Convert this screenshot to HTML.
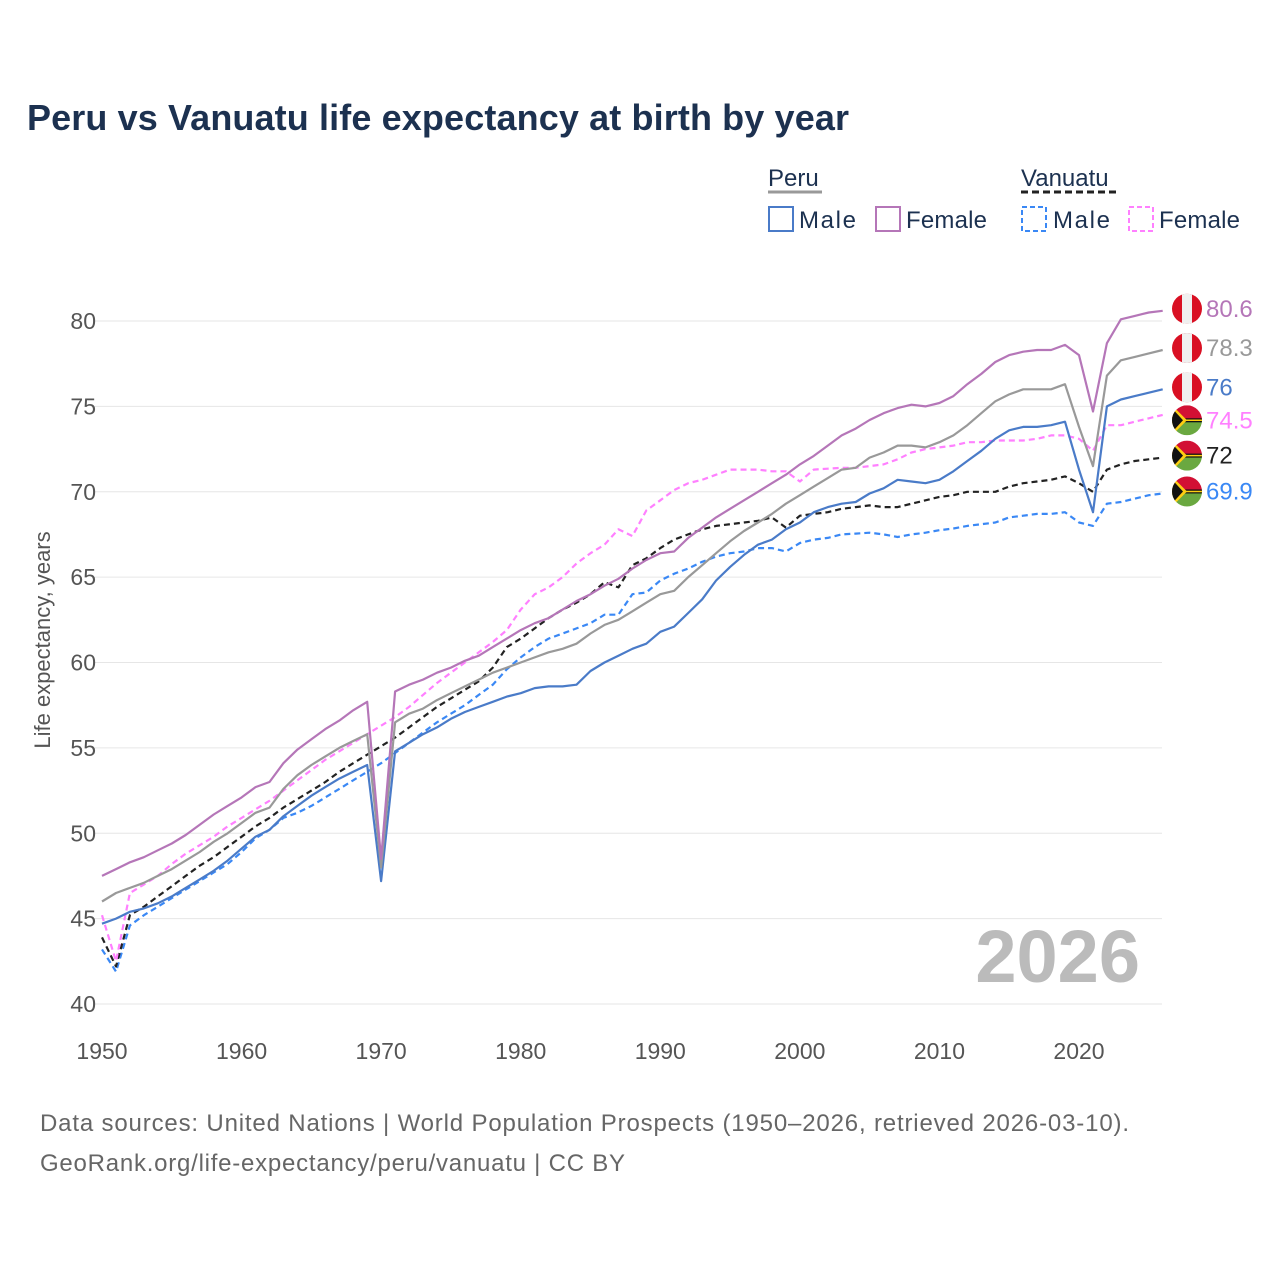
<!DOCTYPE html>
<html><head><meta charset="utf-8">
<style>
body{margin:0;background:#fff;font-family:"Liberation Sans",sans-serif;}
#wrap{position:relative;width:1280px;height:1280px;overflow:hidden;}
</style></head>
<body>
<div id="wrap">
<svg id="chart" width="1280" height="1280" xmlns="http://www.w3.org/2000/svg">
<text x="27" y="130" font-size="36" font-weight="bold" fill="#1c3150" textLength="822">Peru vs Vanuatu life expectancy at birth by year</text>
<g>
<text x="768" y="186" font-size="24" fill="#1c3150">Peru</text>
<line x1="768" y1="192" x2="822" y2="192" stroke="#999" stroke-width="3"/>
<text x="1021" y="186" font-size="24" fill="#1c3150">Vanuatu</text>
<line x1="1021" y1="192" x2="1116" y2="192" stroke="#222" stroke-width="3" stroke-dasharray="7,4"/>
<g><rect x="769" y="207" width="24" height="24" fill="none" stroke="#4a7bc8" stroke-width="2"/><text x="799" y="228" font-size="24" fill="#1c3150" textLength="57">Male</text></g>
<g><rect x="876" y="207" width="24" height="24" fill="none" stroke="#b576b8" stroke-width="2"/><text x="906" y="228" font-size="24" fill="#1c3150" textLength="81">Female</text></g>
<g><rect x="1022" y="207" width="24" height="24" fill="none" stroke="#3a88f5" stroke-width="2" stroke-dasharray="5,3"/><text x="1053" y="228" font-size="24" fill="#1c3150" textLength="57">Male</text></g>
<g><rect x="1129" y="207" width="24" height="24" fill="none" stroke="#ff80ff" stroke-width="2" stroke-dasharray="5,3"/><text x="1159" y="228" font-size="24" fill="#1c3150" textLength="81">Female</text></g>
</g>
<text transform="translate(50,640) rotate(-90)" text-anchor="middle" font-size="22" fill="#555">Life expectancy, years</text>
<g id="grid"></g><g id="series"></g><g id="ends"></g>
<text x="1140" y="982" text-anchor="end" font-size="74" font-weight="bold" fill="#bbb">2026</text>
<text x="40" y="1131" font-size="24" fill="#666" textLength="1089">Data sources: United Nations | World Population Prospects (1950–2026, retrieved 2026-03-10).</text>
<text x="40" y="1171" font-size="24" fill="#666" textLength="585">GeoRank.org/life-expectancy/peru/vanuatu | CC BY</text>
</svg>
</div>
<script>
const startYear = 1950;
const yTicks = [40,45,50,55,60,65,70,75,80];
const xTicks = [1950,1960,1970,1980,1990,2000,2010,2020];
const peruFemale = [47.5,47.9,48.3,48.6,49.0,49.4,49.9,50.5,51.1,51.6,52.1,52.7,53.0,54.1,54.9,55.5,56.1,56.6,57.2,57.7,48.5,58.3,58.7,59.0,59.4,59.7,60.1,60.4,60.9,61.4,61.9,62.3,62.6,63.1,63.6,64.0,64.5,64.9,65.5,66.0,66.4,66.5,67.3,67.9,68.5,69.0,69.5,70.0,70.5,71.0,71.6,72.1,72.7,73.3,73.7,74.2,74.6,74.9,75.1,75.0,75.2,75.6,76.3,76.9,77.6,78.0,78.2,78.3,78.3,78.6,78.0,74.7,78.7,80.1,80.3,80.5,80.6];
const peruTotal = [46.0,46.5,46.8,47.1,47.5,47.9,48.4,48.9,49.5,50.0,50.6,51.2,51.5,52.6,53.4,54.0,54.5,55.0,55.4,55.8,48.0,56.5,57.0,57.3,57.8,58.2,58.6,59.0,59.4,59.7,60.0,60.3,60.6,60.8,61.1,61.7,62.2,62.5,63.0,63.5,64.0,64.2,65.0,65.7,66.4,67.1,67.7,68.2,68.7,69.3,69.8,70.3,70.8,71.3,71.4,72.0,72.3,72.7,72.7,72.6,72.9,73.3,73.9,74.6,75.3,75.7,76.0,76.0,76.0,76.3,73.8,71.5,76.8,77.7,77.9,78.1,78.3];
const peruMale = [44.7,45.0,45.4,45.6,45.9,46.3,46.8,47.3,47.8,48.4,49.1,49.8,50.2,51.0,51.6,52.2,52.7,53.2,53.6,54.0,47.2,54.8,55.3,55.8,56.2,56.7,57.1,57.4,57.7,58.0,58.2,58.5,58.6,58.6,58.7,59.5,60.0,60.4,60.8,61.1,61.8,62.1,62.9,63.7,64.8,65.6,66.3,66.9,67.2,67.8,68.2,68.8,69.1,69.3,69.4,69.9,70.2,70.7,70.6,70.5,70.7,71.2,71.8,72.4,73.1,73.6,73.8,73.8,73.9,74.1,71.3,68.8,75.0,75.4,75.6,75.8,76.0];
const vanFemale = [45.2,42.5,46.5,47.0,47.5,48.2,48.8,49.3,49.8,50.4,50.9,51.4,51.9,52.5,53.1,53.7,54.3,54.8,55.3,55.8,56.3,56.8,57.4,58.1,58.8,59.4,60.0,60.6,61.2,61.9,63.1,64.0,64.4,65.0,65.8,66.4,66.9,67.8,67.4,68.9,69.5,70.1,70.5,70.7,71.0,71.3,71.3,71.3,71.2,71.2,70.6,71.3,71.35,71.4,71.4,71.5,71.6,71.9,72.3,72.5,72.6,72.7,72.9,72.9,73.0,73.0,73.0,73.1,73.3,73.3,73.1,72.4,73.9,73.9,74.1,74.3,74.5];
const vanTotal = [43.9,42.2,45.2,45.7,46.3,46.9,47.5,48.1,48.6,49.2,49.8,50.4,50.9,51.5,52.0,52.5,53.0,53.6,54.1,54.6,55.1,55.6,56.2,56.8,57.4,57.9,58.4,58.9,59.7,60.9,61.4,62.0,62.6,63.1,63.5,64.0,64.7,64.4,65.7,66.1,66.7,67.2,67.5,67.8,68.0,68.1,68.2,68.3,68.5,67.9,68.6,68.7,68.8,69.0,69.1,69.2,69.1,69.1,69.3,69.5,69.7,69.8,70.0,70.0,70.0,70.3,70.5,70.6,70.7,70.9,70.5,70.0,71.3,71.6,71.8,71.9,72.0];
const vanMale = [43.2,41.9,44.6,45.2,45.7,46.2,46.7,47.2,47.7,48.2,48.9,49.7,50.2,50.9,51.2,51.6,52.1,52.6,53.1,53.6,54.1,54.7,55.3,55.9,56.5,57.0,57.5,58.1,58.7,59.6,60.3,60.9,61.4,61.7,62.0,62.3,62.8,62.8,64.0,64.1,64.8,65.2,65.5,65.9,66.2,66.4,66.5,66.7,66.7,66.5,67.0,67.2,67.3,67.5,67.55,67.6,67.5,67.35,67.5,67.6,67.75,67.85,68.0,68.1,68.2,68.5,68.6,68.7,68.7,68.8,68.2,68.0,69.3,69.4,69.6,69.8,69.9];

const X0=102, X1=1079, Y0=1004, Y1=321;
const xs = yr => X0 + (yr-1950)*(X1-X0)/70;
const ys = v => Y0 - (v-40)*(Y0-Y1)/40;
const NS="http://www.w3.org/2000/svg";
function mk(tag, attrs, parent){const e=document.createElementNS(NS,tag);for(const k in attrs)e.setAttribute(k,attrs[k]);parent.appendChild(e);return e;}
const grid=document.getElementById('grid');
yTicks.forEach(t=>{
  const l=mk('line',{x1:X0-8,x2:1162,y1:ys(t),y2:ys(t),stroke:'#e6e6e6','stroke-width':1},grid);
  
  
  const tx=mk('text',{x:96,y:ys(t)+8,'text-anchor':'end','font-size':23,fill:'#555'},grid);
  tx.textContent=t;
  
  
});
xTicks.forEach(t=>{
  const tx=mk('text',{x:xs(t),y:1059,'text-anchor':'middle','font-size':23,fill:'#555'},grid);
  tx.textContent=t;
  
  
});
const series=[
 {d:vanMale,c:'#3a88f5',dash:'6,4',name:'vanuatu-male',flag:'van'},
 {d:vanTotal,c:'#222',dash:'6,4',name:'vanuatu-total',flag:'van'},
 {d:vanFemale,c:'#ff80ff',dash:'6,4',name:'vanuatu-female',flag:'van'},
 {d:peruMale,c:'#4a7bc8',dash:'',name:'peru-male',flag:'peru'},
 {d:peruTotal,c:'#999',dash:'',name:'peru-total',flag:'peru'},
 {d:peruFemale,c:'#b576b8',dash:'',name:'peru-female',flag:'peru'}
];
const sg=document.getElementById('series');
series.forEach(s=>{
  const pts=s.d.map((v,i)=>xs(startYear+i).toFixed(1)+','+ys(v).toFixed(1)).join(' ');
  const p=mk('polyline',{points:pts,fill:'none',stroke:s.c,'stroke-width':2.2,'stroke-linejoin':'round'},sg);
  if(s.dash)p.setAttribute('stroke-dasharray',s.dash);
  
  
});
const ends=series.map(s=>({s,v:s.d[s.d.length-1],y:ys(s.d[s.d.length-1])-2})).sort((a,b)=>a.y-b.y);
for(let i=1;i<ends.length;i++){if(ends[i].y-ends[i-1].y<33)ends[i].y=ends[i-1].y+33;}
const eg=document.getElementById('ends');
ends.forEach(e=>{
  const cx=1187, cy=e.y, r=15;
  const g=mk('g',{},eg);
  
  
  const cid='c'+e.s.name;
  const cp=mk('clipPath',{id:cid},g);mk('circle',{cx,cy,r},cp);
  const f=mk('g',{'clip-path':'url(#'+cid+')'},g);
  if(e.s.flag==='peru'){
    mk('rect',{x:cx-r,y:cy-r,width:2*r,height:2*r,fill:'#d91023'},f);
    mk('rect',{x:cx-r/3,y:cy-r,width:2*r/3,height:2*r,fill:'#f0f0f0'},f);
  }else{
    mk('rect',{x:cx-r,y:cy-r,width:2*r,height:r,fill:'#d21034'},f);
    mk('rect',{x:cx-r,y:cy,width:2*r,height:r,fill:'#6aa840'},f);
    mk('rect',{x:cx-r,y:cy-2,width:2*r,height:4,fill:'#111'},f);
    mk('line',{x1:cx-r,y1:cy,x2:cx+r,y2:cy,stroke:'#fdce12','stroke-width':1.5},f);
    mk('polygon',{points:(cx-r)+','+(cy-r)+' '+(cx)+','+cy+' '+(cx-r)+','+(cy+r),fill:'#fdce12'},f);
    mk('polygon',{points:(cx-r)+','+(cy-r+3)+' '+(cx-4)+','+cy+' '+(cx-r)+','+(cy+r-3),fill:'#111'},f);
  }
  const t=mk('text',{x:1206,y:e.y+8,'font-size':24,fill:e.s.c},eg);
  t.textContent=e.v;
  
  
});
</script>
</body></html>
